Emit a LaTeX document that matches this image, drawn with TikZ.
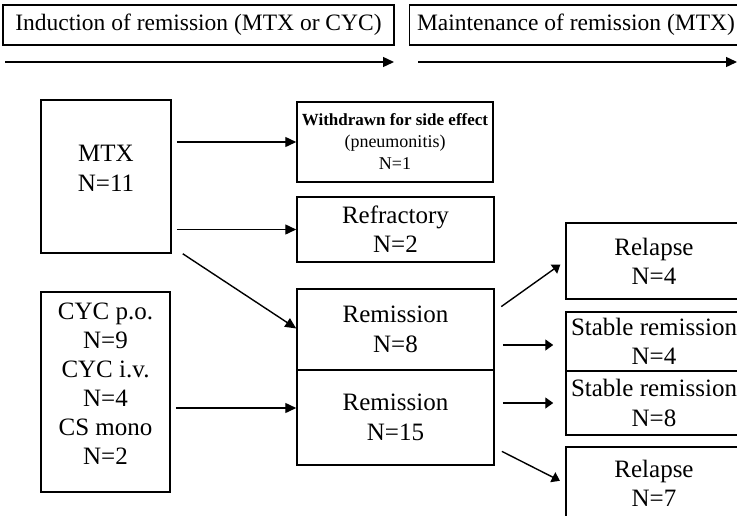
\documentclass[tikz,border=0pt]{standalone}
\usepackage{fontspec}
\setmainfont{Liberation Serif}
\usepackage{tikz}
\usetikzlibrary{arrows.meta}

\begin{document}
\begin{tikzpicture}[x=1pt, y=-1pt]
\tikzset{box/.style={draw, line width=1.5pt, inner sep=0pt, align=center, font=\fontsize{25}{29}\selectfont}}
\tikzset{head/.style={box, minimum height=40, font=\fontsize{23.5}{28}\selectfont}}
\tikzset{flow/.style={-{Triangle[length=11pt,width=10pt]}, line width=1.4pt}}
\tikzset{flowr/.style={-{Triangle[length=8pt,width=11pt]}, line width=1.4pt, shorten <=8pt}}

\useasboundingbox (0,0) rectangle (737,515);
\clip (0,0) rectangle (737,515);

% phases
\node[head, minimum width=391] (hdA) at (198.5,25) {Induction of remission (MTX or CYC)};
\node[head, minimum width=333] (hdB) at (576,25) {Maintenance of remission (MTX)};
\coordinate (indS) at (5,62);
\coordinate (indE) at (394,62);
\coordinate (mntS) at (418,62);
\coordinate (mntE) at (737,62);
\draw[flow] (indS) -- (indE);
\draw[flow] (mntS) -- (mntE);

% induction
\node[box, minimum width=130, minimum height=153] (mtx) at (106,176.5) {MTX\\[1pt]N=11\\[-12pt]};
\node[box, minimum width=129, minimum height=200] (cyc) at (105.5,392) {CYC p.o.\\N=9\\CYC i.v.\\N=4\\CS mono\\N=2\\[-13pt]};
\node[box, minimum width=196, minimum height=80, font=\fontsize{17}{22}\selectfont] (wd) at (395,142) {\textbf{Withdrawn for side effect}\\{\fontsize{18}{22}\selectfont (pneumonitis)}\\{\fontsize{18}{22}\selectfont N=1}};
\node[box, minimum width=197, minimum height=65] (refr) at (395.5,229.5) {Refractory\\N=2};
\node[box, minimum width=197, minimum height=81] (rem8) at (395.5,329.5) {Remission\\[1pt]N=8};
\node[box, minimum width=197, minimum height=95] (rem15) at (395.5,417.5) {Remission\\[1pt]N=15};

\draw[flow, shorten <=5pt] (mtx.east |- wd.west) -- (wd.west);
\draw[flow, shorten <=5pt] (mtx.east |- refr.west) -- (refr.west);
\draw[flow] ([xshift=11pt]mtx.south east) -- ([yshift=1pt]rem8.west);
\coordinate (c15) at ([yshift=9.5pt]rem15.west);
\draw[flow, shorten <=5pt] (cyc.east |- c15) -- (c15);

% maintenance
\node[box, minimum width=176, minimum height=76] (rel4) at (654,261) {Relapse\\N=4};
\node[box, minimum width=176, minimum height=59] (st4) at (654,341.5) {Stable remission\\N=4};
\node[box, minimum width=176, minimum height=64] (st8) at (654,403) {Stable remission\\[1pt]N=8};
\node[box, minimum width=176, minimum height=73] (rel7) at (654,483.5) {Relapse\\N=7};

\draw[flowr, shorten >=6pt] ([yshift=-23pt]rem8.north east) -- (rel4.west);
\draw[flowr, shorten >=12pt] ([yshift=-3.5pt]rem8.east |- st4.west) -- ([yshift=-3.5pt]st4.west);
\draw[flowr, shorten >=12pt] (rem15.east |- st8.west) -- (st8.west);
\draw[flowr, shorten >=6pt] ([yshift=18pt]rem15.south east) -- (rel7.west);
\end{tikzpicture}
\end{document}
